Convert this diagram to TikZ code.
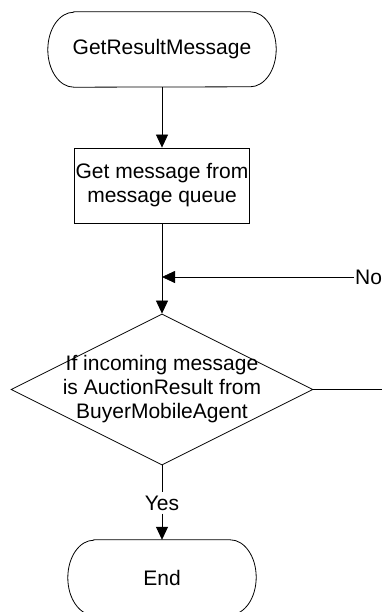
\documentclass[tikz,border=0pt]{standalone}
\usepackage{fontspec}
\setmainfont{Liberation Sans}
\usetikzlibrary{shapes.geometric,arrows.meta}

\tikzset{
  flow/.style={line width=0.8pt, -{Triangle[length=13pt,width=12pt]}},
  plain/.style={line width=0.8pt},
  process/.style={draw, line width=0.8pt, minimum width=175pt, minimum height=75pt, inner sep=0pt, align=center},
  decision/.style={draw, diamond, line width=0.8pt, minimum width=302pt, minimum height=151pt, inner sep=0pt},
  terminal/.style={minimum width=#1, minimum height=75pt, inner sep=0pt},
}
% outline of a terminator with half-elliptic ends
\newcommand{\termline}[1]{%
  \draw[line width=0.8pt] ([xshift=26pt]#1.north west) -- ([xshift=-26pt]#1.north east)
    arc[start angle=90, end angle=-90, x radius=26pt, y radius=37.5pt]
    -- ([xshift=26pt]#1.south west)
    arc[start angle=270, end angle=90, x radius=26pt, y radius=37.5pt] -- cycle;}

\begin{document}
\begin{tikzpicture}[x=1pt, y=-1pt, every node/.style={font=\fontsize{21}{24}\selectfont}]
  \useasboundingbox (0,0) rectangle (382,612);

  \node[terminal=228pt] (start) at (162,49.5) {GetResultMessage};
  \termline{start}
  \node[process] (fetch) at (162,185.5) {Get message from\\message queue};
  \coordinate (merge) at (162,277);
  \node[anchor=west, inner sep=1pt] (no) at (354,277) {No};
  \node[decision, label={[align=center, inner sep=0pt]center:{If incoming message\\is AuctionResult from\\BuyerMobileAgent}}] (check) at (162,389.5) {};
  \coordinate (loop) at (382,389.5);
  \node[fill=white, inner sep=3pt] (yes) at (162,503) {Yes};
  \node[terminal=188pt] (end) at (162,577.5) {End};
  \termline{end}

  \draw[flow] (start) -- (fetch);
  \draw[plain] (fetch) -- (merge);
  \draw[flow] (no) -- (merge);
  \draw[flow] (merge) -- (check);
  \draw[plain] (check.east) -- (loop);
  \draw[plain] (check) -- (yes);
  \draw[flow] (yes) -- (end);
\end{tikzpicture}
\end{document}
